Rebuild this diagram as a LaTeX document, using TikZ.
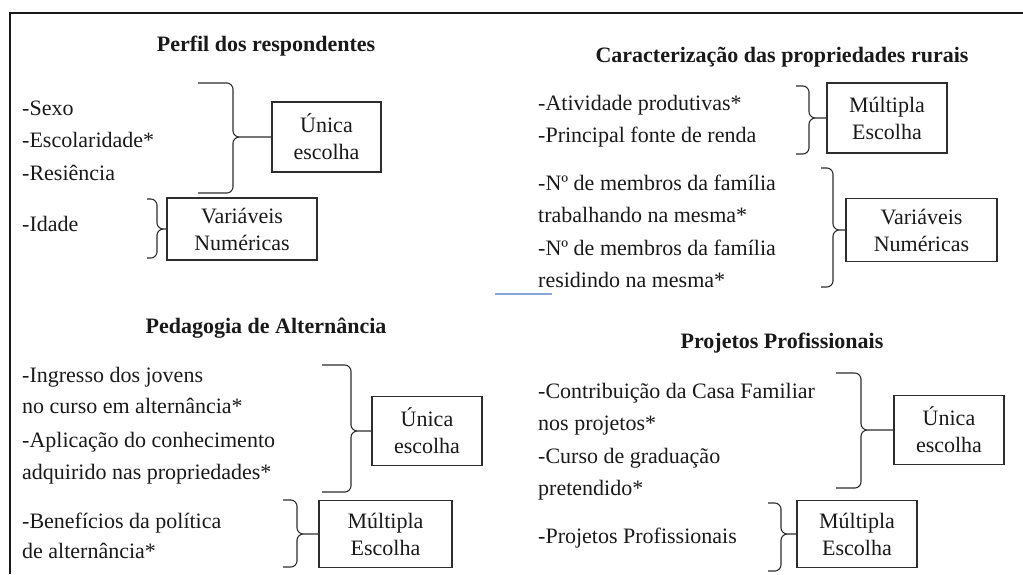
\documentclass[tikz,border=0pt]{standalone}
\usepackage{fontspec}
\setmainfont{Liberation Serif}
\definecolor{ink}{RGB}{25,25,25}
\definecolor{lineink}{RGB}{45,45,45}
\definecolor{faintblue}{RGB}{140,165,215}
\newcommand{\bracefig}[6]{%
  \draw[brc] (#1,#3) -- ({#2-6},#3) .. controls ({#2-2.7},#3) and (#2,{#3+3.3}) .. (#2,{#3+6})
    -- (#2,{#4-6}) .. controls (#2,{#4-2.7}) and ({#2+3.3},#4) .. ({#2+6},#4) -- (#6.west);
  \draw[brc] ({#2+6},#4) .. controls ({#2+3.3},#4) and (#2,{#4+2.7}) .. (#2,{#4+6})
    -- (#2,{#5-6}) .. controls (#2,{#5-3.3}) and ({#2-2.7},#5) .. ({#2-6},#5) -- (#1,#5);}
\begin{document}
\begin{tikzpicture}[x=1pt,y=-1pt,
  txt/.style={anchor=base west, inner sep=0pt, text=ink, font=\fontsize{22}{26}\selectfont},
  ttl/.style={anchor=base, inner sep=0pt, text=ink, font=\fontsize{22}{26}\selectfont\bfseries},
  box/.style={draw=lineink, line width=1.1pt, inner sep=0pt, align=center, text=ink, font=\fontsize{22}{27}\selectfont},
  brc/.style={draw=lineink, line width=1.1pt, line join=round},
  frame/.style={draw=ink, line width=2pt},
  blueline/.style={draw=faintblue, line width=1.3pt}
]
\useasboundingbox (0,0) rectangle (1023,574);
\draw[frame] (9.5,574) -- (9.5,12.5) -- (1023,12.5);
\draw[blueline] (495,294) -- (552,294);

% Perfil dos respondentes
\node[ttl] (t1) at (266,51) {Perfil dos respondentes};
\node[txt] (s1) at (22,115) {-Sexo};
\node[txt] (s2) at (22,147) {-Escolaridade*};
\node[txt] (s3) at (22,180) {-Resiência};
\node[txt] (s4) at (22,231) {-Idade};
\node[box, minimum width=109, minimum height=70] (bu1) at (326.5,137) {Única\\escolha};
\node[box, minimum width=150, minimum height=62] (bv1) at (242,229) {Variáveis\\Numéricas};
\bracefig{198}{233}{83}{137}{193}{bu1}
\bracefig{147}{157}{199}{229}{258}{bv1}

% Caracterização das propriedades rurais
\node[ttl] (t2) at (782,62) {Caracterização das propriedades rurais};
\node[txt] (c1) at (538,110) {-Atividade produtivas*};
\node[txt] (c2) at (538,142) {-Principal fonte de renda};
\node[txt] (c3) at (538,190) {-Nº de membros da família};
\node[txt] (c4) at (538,222) {trabalhando na mesma*};
\node[txt] (c5) at (538,255) {-Nº de membros da família};
\node[txt] (c6) at (538,287) {residindo na mesma*};
\node[box, minimum width=120, minimum height=70] (bm2) at (887,118) {Múltipla\\Escolha};
\node[box, minimum width=151, minimum height=63] (bv2) at (921.5,230) {Variáveis\\Numéricas};
\bracefig{796}{809}{86}{118}{154}{bm2}
\bracefig{821}{833}{168}{230}{287}{bv2}

% Pedagogia de Alternância
\node[ttl] (t3) at (266,333) {Pedagogia de Alternância};
\node[txt] (p1) at (22,382) {-Ingresso dos jovens};
\node[txt] (p2) at (22,413) {no curso em alternância*};
\node[txt] (p3) at (22,447) {-Aplicação do conhecimento};
\node[txt] (p4) at (22,479) {adquirido nas propriedades*};
\node[txt] (p5) at (22,528) {-Benefícios da política};
\node[txt] (p6) at (22,558) {de alternância*};
\node[box, minimum width=110, minimum height=69] (bu3) at (427,431) {Única\\escolha};
\node[box, minimum width=133, minimum height=67] (bm3) at (385.5,534) {Múltipla\\Escolha};
\bracefig{322}{351}{365}{431}{492}{bu3}
\bracefig{283}{297}{500}{534}{567}{bm3}

% Projetos Profissionais
\node[ttl] (t4) at (782,348) {Projetos Profissionais};
\node[txt] (j1) at (538,398) {-Contribuição da Casa Familiar};
\node[txt] (j2) at (538,430) {nos projetos*};
\node[txt] (j3) at (538,463) {-Curso de graduação};
\node[txt] (j4) at (538,495) {pretendido*};
\node[txt] (j5) at (538,543) {-Projetos Profissionais};
\node[box, minimum width=110, minimum height=69] (bu4) at (949,430) {Única\\escolha};
\node[box, minimum width=120, minimum height=67] (bm4) at (857,534) {Múltipla\\Escolha};
\bracefig{836}{861}{373}{430}{488}{bu4}
\bracefig{768}{781}{503}{534}{571}{bm4}
\end{tikzpicture}
\end{document}
